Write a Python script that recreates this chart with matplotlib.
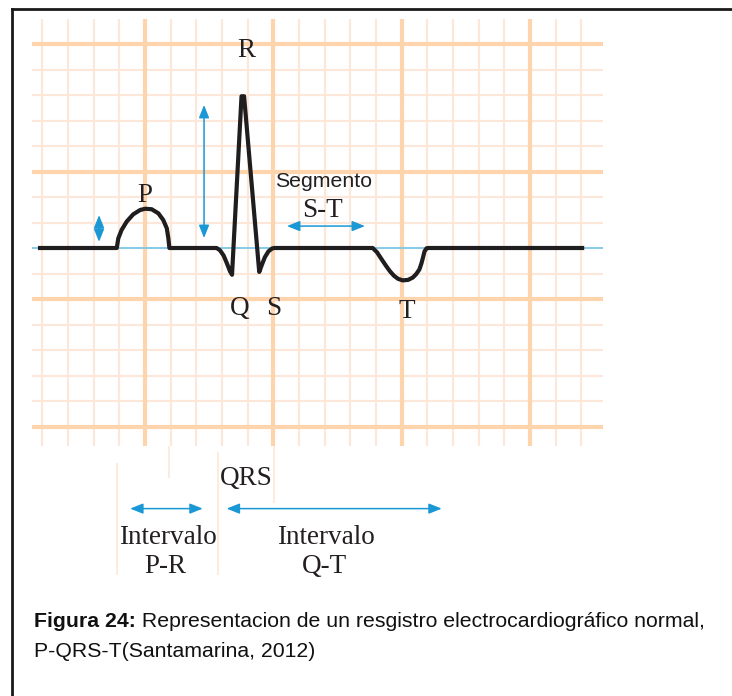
import matplotlib
matplotlib.use("Agg")
import matplotlib.pyplot as plt
from matplotlib.lines import Line2D

# ---------------- data (grid units: 1 = small square) ----------------
ecg_x = [0.83, 3.90, 3.96, 4.09, 4.29, 4.54, 4.81, 5.01, 5.26, 5.52, 5.71, 5.85,
         5.91, 5.95,
         7.79, 7.92, 8.06, 8.19, 8.31, 8.39,
         8.76, 8.86,
         9.45, 9.56, 9.67, 9.81, 9.95, 10.03,
         13.87, 14.04, 14.19, 14.39, 14.54, 14.70, 14.86, 15.04, 15.25, 15.43,
         15.56, 15.69, 15.77, 15.83, 15.89, 15.97, 16.03,
         22.11]
ecg_y = [0, 0, 0.38, 0.71, 1.04, 1.32, 1.49, 1.54, 1.52, 1.36, 1.10, 0.77,
         0.38, 0,
         0, -0.09, -0.29, -0.60, -0.91, -1.05,
         5.95, 5.95,
         -0.94, -0.64, -0.36, -0.13, -0.02, 0,
         0, -0.17, -0.40, -0.70, -0.91, -1.09, -1.21, -1.27, -1.25, -1.16,
         -1.03, -0.84, -0.60, -0.37, -0.13, -0.01, 0,
         0]

grid_v_thin = [1, 2, 3, 4, 6, 7, 8, 9, 11, 12, 13, 14, 16, 17, 18, 19, 21, 22]
grid_v_thick = [5, 10, 15, 20]
grid_h_thin = [7, 6, 5, 4, 2, 1, 0, -1, -3, -4, -5, -6]
grid_h_thick = [8, 3, -2, -7]

# interval marker guide lines
guide_x = [3.91, 5.93, 7.84, 10.03]
guide_y0 = [-12.82, -9.02, -12.82, -10.0]
guide_y1 = [-8.43, -7.75, -8.0, -7.75]

# blue arrows: (x0, y0, x1, y1)
arrows = [
    (3.21, 0.24, 3.21, 1.29),
    (7.30, 0.39, 7.30, 5.61),
    (10.53, 0.86, 13.57, 0.86),
    (4.42, -10.22, 7.25, -10.22),
    (8.18, -10.22, 16.56, -10.22),
]

serif_labels = ["R", "P", "Q", "S", "T", "QRS", "S-T", "Intervalo", "P-R",
                "Intervalo", "Q-T"]
serif_x = [8.96, 5.01, 8.70, 10.0, 15.19, 8.93, 11.9, 5.91, 5.78, 12.05, 12.01]
serif_y = [7.50, 1.79, -2.63, -2.63, -2.76, -9.29, 1.23, -11.62, -12.76,
           -11.62, -12.76]

caption_bold = "Figura 24:"
caption_rest = " Representacion de un resgistro electrocardiográfico normal,"
caption_line2 = "P-QRS-T(Santamarina, 2012)"

# ---------------- figure ----------------
W, H = 732, 696
fig = plt.figure(figsize=(W / 100, H / 100), dpi=100)
ax = fig.add_axes([0, 0, 1, 1])
ux, uy = 25.67, 25.5
ax.set_xlim(5 - 145 / ux, 5 + (W - 145) / ux)
ax.set_ylim((248 - H) / uy, 248 / uy)
ax.axis("off")

thin_c = "#fde7d8"
thick_c = "#fdd4ab"
xg0, xg1 = 0.6, 22.84
yg0, yg1 = -7.75, 8.98

ax.vlines(grid_v_thin, yg0, yg1, color=thin_c, lw=1.5, zorder=1)
ax.hlines(grid_h_thin, xg0, xg1, color=thin_c, lw=1.5, zorder=1)
ax.vlines(grid_v_thick, yg0, yg1, color=thick_c, lw=3.0, zorder=2)
ax.hlines(grid_h_thick, xg0, xg1, color=thick_c, lw=3.0, zorder=2)
ax.vlines(guide_x, guide_y0, guide_y1, color=thin_c, lw=1.2, zorder=1)

# baseline
ax.hlines([0], xg0, xg1, color="#74c6ec", lw=1.2, zorder=3)

# ECG trace
ax.plot(ecg_x, ecg_y, color="#1f1d1e", lw=3.0, solid_joinstyle="round",
        solid_capstyle="butt", zorder=5)

blue = "#1a98d5"
for x0, y0, x1, y1 in arrows:
    ax.annotate("", xy=(x1, y1), xytext=(x0, y0),
                arrowprops=dict(arrowstyle="<|-|>,head_length=0.55,head_width=0.22",
                                color=blue, lw=1.1, shrinkA=0, shrinkB=0,
                                mutation_scale=14), zorder=6)

for s, x, y in zip(serif_labels, serif_x, serif_y):
    ax.text(x, y, s, ha="center", va="baseline", fontsize=19.5,
            family="Liberation Serif", color="#231f20", zorder=7)

ax.text(11.97, 2.40, "Segmento", ha="center", va="baseline", fontsize=15.3,
        family="Liberation Sans", color="#231f20", zorder=7)

# frame
fig.add_artist(Line2D([11.5 / W, 1.0], [1 - 8.5 / H, 1 - 8.5 / H],
                      transform=fig.transFigure, color="#1a1a1a", lw=2.0))
fig.add_artist(Line2D([11.5 / W, 11.5 / W], [1 - 8.5 / H, 0],
                      transform=fig.transFigure, color="#1a1a1a", lw=2.0))

# caption
cfs = 15.3
tb = fig.text(34 / W, 1 - 627 / H, caption_bold, fontsize=cfs, weight="bold",
              family="Liberation Sans", ha="left", va="baseline", color="#111")
ax.annotate(caption_rest, xy=(1, 0), xycoords=tb, ha="left", va="bottom",
            fontsize=cfs, family="Liberation Sans", color="#111",
            annotation_clip=False)
fig.text(34 / W, 1 - 657 / H, caption_line2, fontsize=cfs,
         family="Liberation Sans", ha="left", va="baseline", color="#111")

fig.savefig("out.png", dpi=100)
